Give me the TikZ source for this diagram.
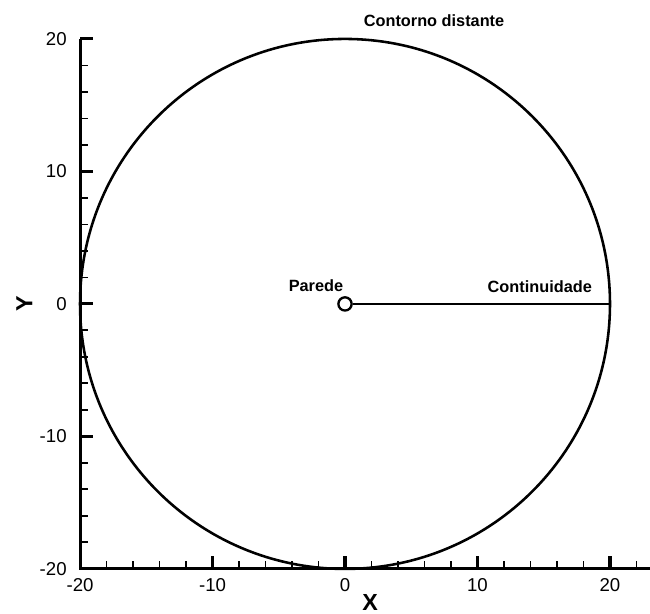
\documentclass[tikz,border=0pt]{standalone}
\usepackage{fontspec}
\setmainfont{Liberation Sans}
\usetikzlibrary{positioning}

\begin{document}
\begin{tikzpicture}[x=0.2cm, y=0.2cm, font=\fontsize{8}{9}\selectfont,
    ax/.style={line width=1.3pt},
    bnd/.style={line width=1.1pt},
    lbl/.style={font=\fontsize{7}{8}\selectfont\bfseries, inner sep=1pt},
    axlbl/.style={font=\fontsize{10}{11}\selectfont\bfseries, inner sep=1pt},
    wall/.style={circle, draw, line width=1pt, minimum size=0.2cm, inner sep=0pt}]
\useasboundingbox (-26.04,-23.4) rectangle (23.02,22.94);
% axes
\draw[ax] (-20,20) -- (-20,-20) -- (23,-20);
\foreach \t in {-18,-16,...,22} \draw[ax, line width=0.8pt] (\t,-20) -- (\t,-19.4);
\foreach \t in {-18,-16,...,18} \draw[ax, line width=0.8pt] (-20,\t) -- (-19.4,\t);
\foreach \t in {-10,0,10,20} \draw[ax] (\t,-20) -- (\t,-19);
\foreach \t in {-10,0,10,20} \draw[ax] (-20,\t) -- (-19,\t);
\foreach \t in {-20,-10,0,10,20} \node[anchor=north, inner sep=1pt] at (\t,-20.5) {\t};
\foreach \t in {-20,-10,0,10,20} \node[anchor=east, inner sep=1pt] at (-20.8,\t) {\t};
\node[axlbl, rotate=90] (ylab) at (-24.2,0) {Y};
\node[axlbl] (xlab) at (1.9,-22.5) {X};

% far field and wall
\draw[bnd] (0,0) circle[radius=20];
\node[wall] (wall) at (0,0) {};
\coordinate (ff) at (20,0);
\draw[bnd, line width=1pt] (wall) -- (ff);
\node[lbl] (parede) at (-2.19,1.35) {Parede};
\node[lbl] (cont) at (14.7,1.28) {Continuidade};
\node[lbl] (contorno) at (6.72,21.4) {Contorno distante};
\end{tikzpicture}
\end{document}
